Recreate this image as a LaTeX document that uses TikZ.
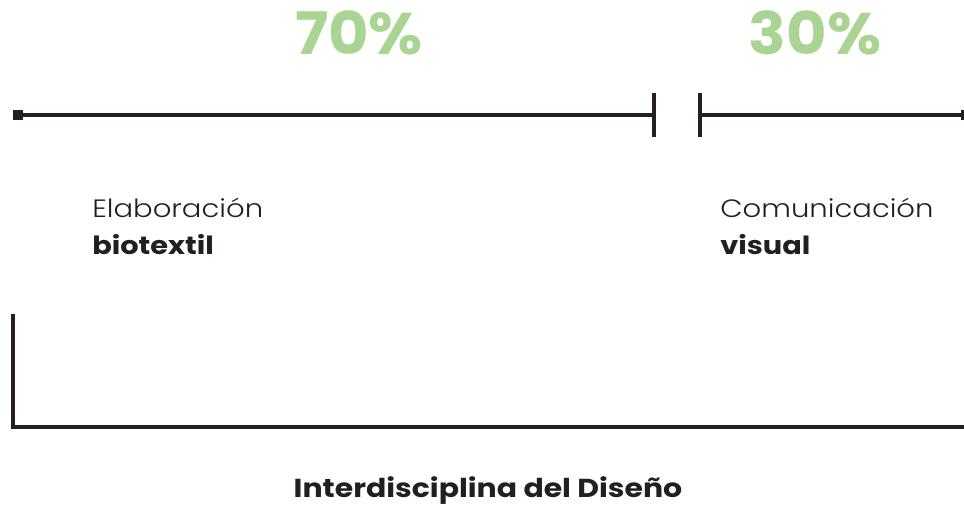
\documentclass[tikz,border=0pt]{standalone}
\usepackage{fontspec}
\setmainfont{Poppins}
\newfontfamily\poplight{Poppins}[UprightFont=* Light, BoldFont=* Bold, FakeStretch=1.16]
\newfontfamily\popwide{Poppins}[FakeStretch=1.15]
\newfontfamily\poppct{Poppins}[FakeStretch=1.06]
\usepackage{tikz}
\usetikzlibrary{calc, positioning}
\definecolor{pctGreen}{RGB}{170, 212, 145}
\definecolor{inkDark}{RGB}{35, 31, 32}

\begin{document}
\begin{tikzpicture}[x=0.75pt, y=-0.75pt,
    rule/.style={draw=inkDark, line width=2.5pt},
    pct/.style={font=\poppct\fontsize{44}{44}\selectfont\bfseries, text=pctGreen, inner sep=0, anchor=base},
    area/.style={font=\poplight\fontsize{18.8}{22}\selectfont, text=inkDark, inner sep=0, anchor=base west},
    areabold/.style={font=\popwide\fontsize{18.8}{22}\selectfont\bfseries, text=inkDark, inner sep=0, anchor=base west}]
  \useasboundingbox (0,0) rectangle (964,506);

  % Percentages
  \node[pct] (pA) at (359,55) {70\%};
  \node[pct] (pB) at (815,55) {30\%};

  % Timeline
  \coordinate (tStart) at (18,115);
  \coordinate (gapL) at (654,115);
  \coordinate (gapR) at (700,115);
  \coordinate (tEnd) at (966,115);
  \draw[rule] (tStart) -- (gapL);
  \draw[rule] (gapR) -- (tEnd);
  \fill[inkDark] ($(tStart)+(-5,-5)$) rectangle ($(tStart)+(5,5)$);
  \fill[inkDark] ($(tEnd)+(-5,-5)$) rectangle ($(tEnd)+(5,5)$);
  \draw[rule] ($(gapL)+(0,-22)$) -- ($(gapL)+(0,22)$);
  \draw[rule] ($(gapR)+(0,-22)$) -- ($(gapR)+(0,22)$);

  % Areas
  \node[area] (elab) at (92,218) {Elaboración};
  \node[areabold] (bio) at (92,254) {biotextil};
  \node[area] (comu) at (720,218) {Comunicación};
  \node[areabold] (vis) at (720,254) {visual};

  % Bracket
  \coordinate (bTop) at (13,314);
  \coordinate (bCorner) at (13,427);
  \coordinate (bEnd) at (966,427);
  \draw[rule] (bTop) -- (bCorner) -- (bEnd);

  \node[font=\popwide\fontsize{19.5}{22}\selectfont\bfseries, text=inkDark, inner sep=0, anchor=base]
    (inter) at (488,497) {Interdisciplina del Diseño};
\end{tikzpicture}
\end{document}
